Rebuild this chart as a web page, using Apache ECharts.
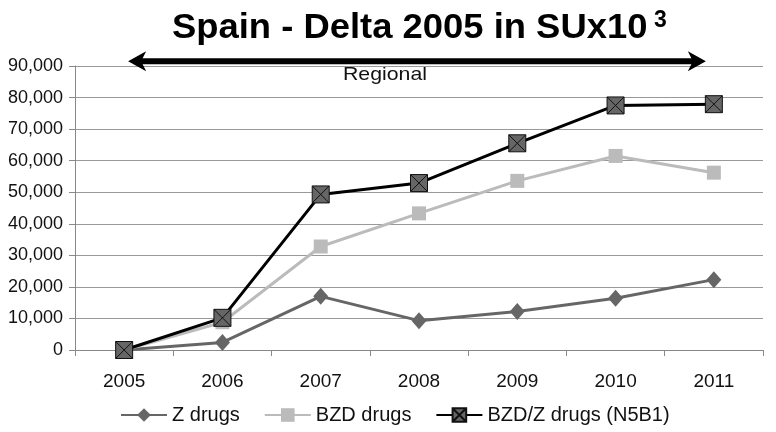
<!DOCTYPE html>
<html>
<head>
<meta charset="utf-8">
<script src="https://cdn.jsdelivr.net/npm/echarts@6/dist/echarts.min.js"></script>
<style>
  html, body { margin: 0; padding: 0; background: #fff; }
  #chart { width: 776px; height: 432px; }
</style>
</head>
<body>
<div id="chart"></div>
<script>
const years = ['2005', '2006', '2007', '2008', '2009', '2010', '2011'];
const zDrugs = [0, 2400, 17000, 9300, 12200, 16400, 22300];
const bzdDrugs = [0, 8800, 32800, 43300, 53600, 61500, 56200];
const bzdZDrugs = [0, 10200, 49300, 52900, 65500, 77500, 77900];
const yTicks = { min: 0, max: 90000, interval: 10000 };
// span of the "Regional" arrow, in data terms
const arrowFrom = ['2005', 91500];
const arrowTo = ['2011', 91500];

const font = 'Liberation Sans, Arial, sans-serif';
const crossSquare = 'path://M0,0H10V10H0Z M0,0L10,10 M10,0L0,10';

const chart = echarts.init(document.getElementById('chart'));
chart.setOption({
  animation: false,
  backgroundColor: '#fff',
  textStyle: { fontFamily: font },
  grid: { left: 75, right: 13, top: 66, bottom: 82, containLabel: false },
  legend: {
    bottom: 2,
    left: 115,
    itemWidth: 46,
    itemHeight: 17,
    itemGap: 24,
    textStyle: { fontFamily: font, fontSize: 20, color: '#111' },
    data: ['Z drugs', 'BZD drugs', 'BZD/Z drugs (N5B1)']
  },
  xAxis: {
    type: 'category',
    data: years,
    boundaryGap: true,
    axisLine: { lineStyle: { color: '#888', width: 1 } },
    axisTick: { show: true, length: 6, lineStyle: { color: '#888' } },
    axisLabel: { fontFamily: font, fontSize: 19, color: '#111', margin: 22 }
  },
  yAxis: {
    type: 'value',
    min: yTicks.min,
    max: yTicks.max,
    interval: yTicks.interval,
    axisLine: { show: true, lineStyle: { color: '#888', width: 1 } },
    axisTick: { show: true, length: 6, lineStyle: { color: '#888' } },
    axisLabel: {
      fontFamily: font, fontSize: 18, color: '#111', margin: 12,
      formatter: v => v.toLocaleString('en-US')
    },
    splitLine: { lineStyle: { color: '#999', width: 1 } }
  },
  series: [
    {
      name: 'Z drugs',
      type: 'line',
      data: zDrugs,
      symbol: 'diamond',
      symbolSize: [15, 17],
      lineStyle: { color: '#666', width: 3 },
      itemStyle: { color: '#666' },
      z: 2
    },
    {
      name: 'BZD drugs',
      type: 'line',
      data: bzdDrugs,
      symbol: 'rect',
      symbolSize: 14,
      lineStyle: { color: '#bbb', width: 3 },
      itemStyle: { color: '#bbb' },
      z: 3
    },
    {
      name: 'BZD/Z drugs (N5B1)',
      type: 'line',
      data: bzdZDrugs,
      symbol: crossSquare,
      symbolSize: 17,
      lineStyle: { color: '#000', width: 3 },
      itemStyle: { color: '#666', borderColor: '#111', borderWidth: 1 },
      z: 4
    }
  ]
});

// arrow + labels placed from the axes
const p0 = chart.convertToPixel({ gridIndex: 0 }, arrowFrom);
const p1 = chart.convertToPixel({ gridIndex: 0 }, arrowTo);
const x0 = p0[0] + 4, x1 = p1[0] - 8, ay = p0[1];
const head = 18, half = 10;
chart.setOption({
  graphic: [
    {
      type: 'line',
      shape: { x1: x0 + 6, y1: ay, x2: x1 - 6, y2: ay },
      style: { stroke: '#000', lineWidth: 6 },
      z: 10
    },
    {
      type: 'polygon',
      shape: { points: [[x0, ay], [x0 + head, ay - half], [x0 + head - 5, ay], [x0 + head, ay + half]] },
      style: { fill: '#000' },
      z: 10
    },
    {
      type: 'polygon',
      shape: { points: [[x1, ay], [x1 - head, ay - half], [x1 - head + 5, ay], [x1 - head, ay + half]] },
      style: { fill: '#000' },
      z: 10
    },
    {
      type: 'text',
      x: 343, y: 75,
      scaleX: 1.12,
      style: { text: 'Regional', fontFamily: font, fontSize: 19, fill: '#111', verticalAlign: 'middle' },
      z: 10
    },
    {
      type: 'text',
      x: 172, y: 28,
      scaleX: 1.04,
      style: { text: 'Spain - Delta 2005 in SUx10', fontFamily: font, fontWeight: 'bold', fontSize: 35, fill: '#000', verticalAlign: 'middle' },
      z: 10
    },
    {
      type: 'text',
      x: 654, y: 21,
      style: { text: '3', fontFamily: font, fontWeight: 'bold', fontSize: 23, fill: '#000', verticalAlign: 'middle' },
      z: 10
    }
  ]
});
</script>
</body>
</html>
